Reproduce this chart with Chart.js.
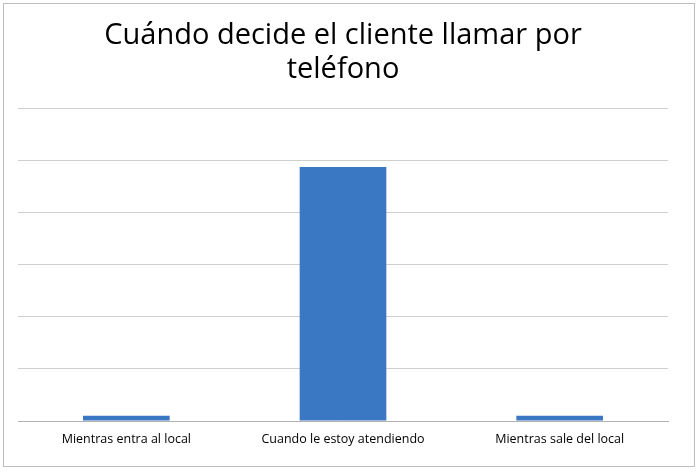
<!DOCTYPE html>
<html><head><meta charset="utf-8">
<script src="https://cdn.jsdelivr.net/npm/chart.js@4/dist/chart.umd.min.js"></script>
<style>
html,body{margin:0;padding:0;background:#fff;}
#wrap{position:absolute;left:3px;top:3px;width:692px;height:464px;border:1px solid #bdbdbd;box-sizing:border-box;}
</style></head><body>
<div id="wrap"><canvas id="c" width="690" height="462"></canvas></div>
<script>
const categories = ["Mientras entra al local", "Cuando le estoy atendiendo", "Mientras sale del local"];
const values = [0.1, 4.88, 0.1];
const titleLines = ["Cuándo decide el cliente llamar por", "teléfono"];
new Chart(document.getElementById('c'), {
  type: 'bar',
  data: { labels: categories, datasets: [{ data: values, backgroundColor: '#3a78c3', barPercentage: 0.4, categoryPercentage: 1 }] },
  options: {
    responsive: false, animation: false,
    layout: { padding: { left: 14, right: 26, bottom: 16, top: 0 } },
    plugins: {
      legend: { display: false },
      tooltip: { enabled: false },
      title: { display: true, text: titleLines, color: '#000', font: { family: 'Open Sans', size: 29, weight: 'normal' }, padding: { top: 14, bottom: 21 }, align: 'center' }
    },
    scales: {
      x: { grid: { display: false }, border: { color: '#b0b0b0' }, ticks: { color: '#000', font: { family: 'Open Sans', size: 12.5 } } },
      y: { min: 0, max: 6, ticks: { display: false, stepSize: 1 }, grid: { color: '#cfcfcf', drawTicks: false }, border: { display: false } }
    }
  }
});
</script></body></html>
